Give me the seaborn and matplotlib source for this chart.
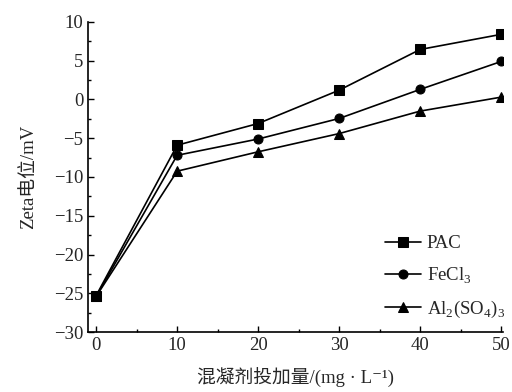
import numpy as np
import pandas as pd
import seaborn as sns
import matplotlib.pyplot as plt
from matplotlib.ticker import MultipleLocator

dosage = [0, 10, 20, 30, 40, 50]
pac = [-25.3, -5.9, -3.1, 1.2, 6.45, 8.4]
fecl3 = [-25.4, -7.2, -5.1, -2.45, 1.3, 4.9]
al2so4 = [-25.4, -9.25, -6.75, -4.4, -1.5, 0.3]
series_names = ['PAC', 'FeCl$_3$', 'Al$_2$(SO$_4$)$_3$']

df = pd.DataFrame({
    'dosage': dosage * 3,
    'zeta': pac + fecl3 + al2so4,
    'coag': [series_names[0]] * 6 + [series_names[1]] * 6 + [series_names[2]] * 6,
})

sns.set_style('ticks')
plt.rcParams['font.family'] = ['Liberation Serif', 'Noto Sans CJK SC', 'DejaVu Serif']
plt.rcParams['mathtext.fontset'] = 'custom'
plt.rcParams['mathtext.rm'] = 'Liberation Serif'
plt.rcParams['xtick.direction'] = 'in'
plt.rcParams['ytick.direction'] = 'in'
font_size = 13.5

fig = plt.figure(figsize=(5.12, 3.92), dpi=100)
ax = fig.add_axes([0.172, 0.153, 0.81, 0.791])

sns.lineplot(data=df, x='dosage', y='zeta', hue='coag', style='coag',
             palette=['black'] * 3, markers=['s', 'o', '^'], dashes=False,
             markersize=6.5, linewidth=1.2, markeredgecolor='black', ax=ax)

ax.set_xlim(-1, 50.2)
ax.set_ylim(-30, 10)
ax.xaxis.set_major_locator(MultipleLocator(10))
ax.xaxis.set_minor_locator(MultipleLocator(5))
ax.yaxis.set_major_locator(MultipleLocator(5))
ax.yaxis.set_minor_locator(MultipleLocator(2.5))
ax.tick_params(which='major', length=4, width=1, labelsize=font_size, color='black')
ax.tick_params(which='minor', length=2.5, width=1, color='black')
for s in ['left', 'bottom']:
    ax.spines[s].set_linewidth(1.2)
    ax.spines[s].set_color('black')
sns.despine(ax=ax)

ax.set_xlabel('混凝剂投加量/(mg · L\u207b\u00b9)', fontsize=font_size, labelpad=10)
ax.set_ylabel('Zeta电位/mV', fontsize=font_size, labelpad=12)

ax.legend(title=None, frameon=False, loc='lower right', bbox_to_anchor=(1.045, -0.015),
          fontsize=font_size, handlelength=1.9, handletextpad=0.3, labelspacing=0.7)

plt.savefig('out.png', dpi=100)
